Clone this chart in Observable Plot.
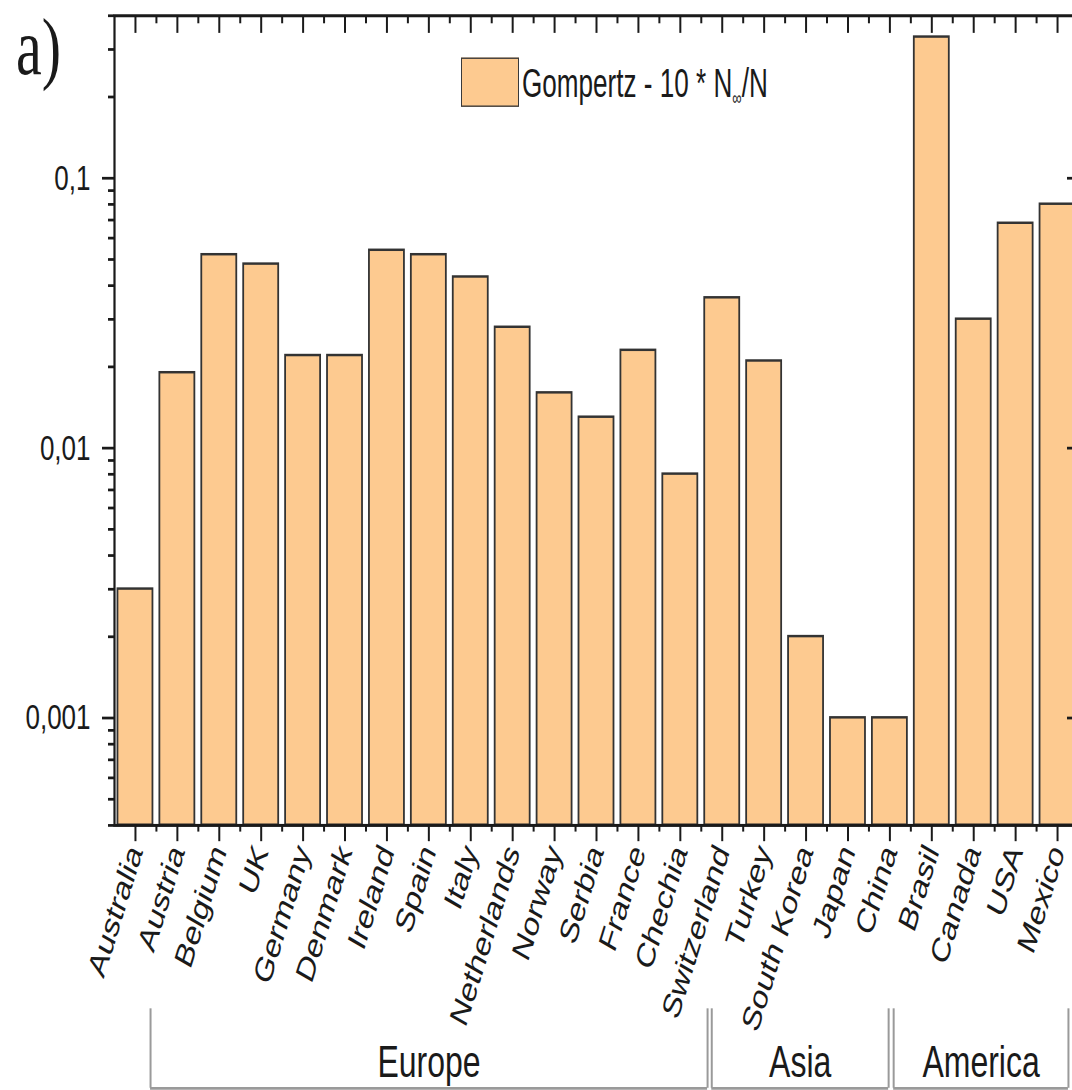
<!DOCTYPE html>
<html>
<head>
<meta charset="utf-8">
<script src="https://cdn.jsdelivr.net/npm/d3@7"></script>
<script src="https://cdn.jsdelivr.net/npm/@observablehq/plot@0.6"></script>
<style>
  html, body { margin: 0; padding: 0; background: #fff; }
  body { width: 1072px; height: 1090px; overflow: hidden; }
  #stage {
    position: relative; width: 1072px; height: 796px; overflow: hidden;
    transform: scaleY(1.37); transform-origin: 0 0;
    font-family: "Liberation Sans", Arial, sans-serif; color: #1a1a1a;
  }
  #stage svg { position: absolute; left: 0; top: 0; max-width: none !important; height: 796px !important; }
  #panel { position: absolute; left: 16px; top: 0.5px; font-family: "Liberation Serif", "Times New Roman", serif; font-size: 58px; line-height: normal; color: #1a1a1a; }
  #legend-swatch { position: absolute; left: 461px; top: 42px; width: 56px; height: 34px; background: #FDCA90; border: 1.6px solid #3a3a3a; }
  #legend-text { position: absolute; left: 522px; top: 46px; font-size: 30px; line-height: 30px; white-space: nowrap; transform: scaleX(0.87); transform-origin: 0 0; }
  #legend-text sub { font-size: 15px; vertical-align: -6px; line-height: 0; }
</style>
</head>
<body>
<div id="stage"></div>
<script>
// ---- data ----
const countries = ["Australia", "Austria", "Belgium", "UK", "Germany", "Denmark", "Ireland", "Spain", "Italy", "Netherlands", "Norway", "Serbia", "France", "Chechia", "Switzerland", "Turkey", "South Korea", "Japan", "China", "Brasil", "Canada", "USA", "Mexico"];
const values = [0.003, 0.019, 0.052, 0.048, 0.022, 0.022, 0.054, 0.052, 0.043, 0.028, 0.016, 0.013, 0.023, 0.008, 0.036, 0.021, 0.002, 0.001, 0.001, 0.333, 0.030, 0.068, 0.080];
const yTicksMajor = [0.001, 0.01, 0.1];
const yTicksMinor = [0.0004, 0.0005, 0.0006, 0.0007, 0.0008, 0.0009, 0.002, 0.003, 0.004, 0.005, 0.006, 0.007, 0.008, 0.009, 0.02, 0.03, 0.04, 0.05, 0.06, 0.07, 0.08, 0.09, 0.2, 0.3, 0.4];
const yDomain = [0.0004, 0.4];
const groupNames = ["Europe", "Asia", "America"];
const groupStarts = [0.86, 14.25, 18.59];   // in category-index units
const groupEnds = [14.15, 18.47, 22.76];
const legendLabel = "Gompertz - 10 * N";
const panelLabel = "a)";

// ---- layout ----
const W = 1090, H = 796, ML = 114, MR = 12, MT = 11, MB = 194;
const step = (W - ML - MR) / countries.length;
const ink = "#1a1a1a";
const font = "'Liberation Sans', Arial, sans-serif";

const data = countries.map((c, i) => ({country: c, value: values[i]}));
const fmt = d => String(d).replace(".", ",");
const blank = () => "";

const main = Plot.plot({
  width: W, height: H,
  marginLeft: ML, marginRight: MR, marginTop: MT, marginBottom: MB,
  style: {fontFamily: font, background: "transparent", color: ink, overflow: "visible"},
  x: {type: "band", domain: countries, paddingInner: 0.165, paddingOuter: 0.0825, round: false},
  y: {type: "log", domain: yDomain},
  marks: [
    Plot.barY(data, {x: "country", y1: yDomain[0], y2: "value", fill: "#FDCA90", stroke: "#333", strokeWidth: 1.8}),
    Plot.frame({stroke: ink, strokeWidth: 2.2}),
    Plot.axisY({anchor: "left", ticks: yTicksMajor, tickSize: 12, tickPadding: 12, tickFormat: fmt, fontSize: 26, strokeWidth: 2, label: null}),
    Plot.axisY({anchor: "left", ticks: yTicksMinor, tickSize: 6, tickFormat: blank, strokeWidth: 2, label: null}),
    Plot.axisY({anchor: "right", ticks: yTicksMajor, tickSize: -12, tickFormat: blank, strokeWidth: 2, label: null}),
    Plot.axisY({anchor: "right", ticks: yTicksMinor, tickSize: -6, tickFormat: blank, strokeWidth: 2, label: null}),
    Plot.axisX({anchor: "bottom", tickSize: 12, tickPadding: 4, tickRotate: -67, fontSize: 26, strokeWidth: 2, label: null}),
    Plot.axisX({anchor: "bottom", tickSize: 5, dx: step / 2, tickFormat: blank, strokeWidth: 2, label: null}),
    Plot.axisX({anchor: "top", tickSize: -12, tickFormat: blank, strokeWidth: 2, label: null}),
    Plot.axisX({anchor: "top", tickSize: -5, dx: step / 2, tickFormat: blank, strokeWidth: 2, label: null})
  ]
});

const groups = groupNames.map((g, i) => ({name: g, start: groupStarts[i], end: groupEnds[i], mid: (groupStarts[i] + groupEnds[i]) / 2}));
const bracket = Plot.plot({
  width: W, height: H,
  marginLeft: ML, marginRight: MR, marginTop: 736, marginBottom: 2,
  style: {fontFamily: font, background: "transparent", color: ink},
  x: {domain: [0, countries.length], axis: null},
  y: {domain: [0, 1], axis: null},
  marks: [
    Plot.ruleX(groups, {x: "start", y1: 0, y2: 1, stroke: "#9a9a9a", strokeWidth: 2}),
    Plot.ruleX(groups, {x: "end", y1: 0, y2: 1, stroke: "#9a9a9a", strokeWidth: 2}),
    Plot.ruleY(groups, {y: 0, x1: "start", x2: "end", stroke: "#9a9a9a", strokeWidth: 2}),
    Plot.text(groups, {x: "mid", y: 0.32, text: "name", fontSize: 32, fill: ink})
  ]
});

const stage = document.getElementById("stage");
stage.appendChild(main);
stage.appendChild(bracket);

const panel = document.createElement("div");
panel.id = "panel"; panel.textContent = panelLabel;
stage.appendChild(panel);

const sw = document.createElement("div");
sw.id = "legend-swatch";
stage.appendChild(sw);
const lt = document.createElement("div");
lt.id = "legend-text";
lt.innerHTML = legendLabel + "<sub>\u221E</sub>/N";
stage.appendChild(lt);
</script>
</body>
</html>
